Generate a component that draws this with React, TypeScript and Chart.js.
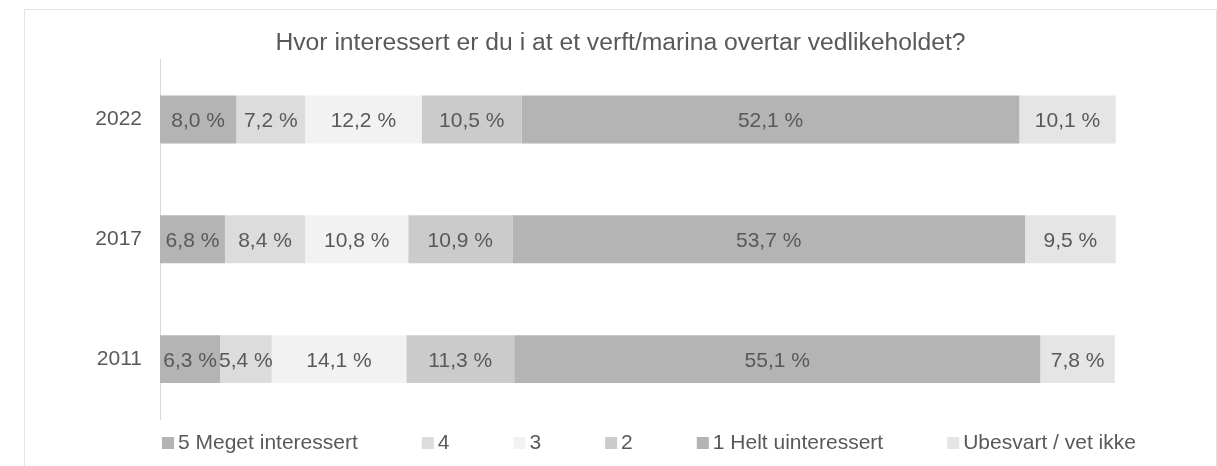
import React, { useEffect, useRef } from "react";
import { Chart, registerables } from "chart.js";

Chart.register(...registerables);

const title = "Hvor interessert er du i at et verft/marina overtar vedlikeholdet?";
const years = ["2022", "2017", "2011"];
const seriesNames = [
  "5 Meget interessert",
  "4",
  "3",
  "2",
  "1 Helt uinteressert",
  "Ubesvart / vet ikke",
];
const meget = [8.0, 6.8, 6.3];
const fire = [7.2, 8.4, 5.4];
const tre = [12.2, 10.8, 14.1];
const to = [10.5, 10.9, 11.3];
const helt = [52.1, 53.7, 55.1];
const ubesvart = [10.1, 9.5, 7.8];
const seriesValues = [meget, fire, tre, to, helt, ubesvart];
const colors = ["#b4b4b4", "#dcdcdc", "#f2f2f2", "#cbcbcb", "#b4b4b4", "#e5e5e5"];

const FONT = "'Liberation Sans', Arial, Helvetica, sans-serif";
const TEXT = "#595959";

const fmt = (v: number) => v.toFixed(1).replace(".", ",") + " %";

const dataLabels = {
  id: "dataLabels",
  afterDatasetsDraw(chart: any) {
    const ctx = chart.ctx;
    ctx.save();
    ctx.font = `21px ${FONT}`;
    ctx.fillStyle = TEXT;
    ctx.textAlign = "center";
    ctx.textBaseline = "middle";
    chart.data.datasets.forEach((ds: any, di: number) => {
      const meta = chart.getDatasetMeta(di);
      meta.data.forEach((el: any, i: number) => {
        const cx = (el.x + el.base) / 2;
        ctx.fillText(fmt(ds.data[i]), cx, el.y + 2);
      });
    });
    ctx.restore();
  },
};

const customLegend = {
  id: "customLegend",
  afterDraw(chart: any) {
    const ctx = chart.ctx;
    const area = chart.chartArea;
    ctx.save();
    ctx.font = `21px ${FONT}`;
    ctx.textBaseline = "alphabetic";
    ctx.textAlign = "left";
    let x = area.left + 2;
    const baseline = area.bottom + 30;
    const box = 12;
    const gap = 64;
    chart.data.datasets.forEach((ds: any) => {
      ctx.fillStyle = ds.backgroundColor;
      ctx.fillRect(x, baseline - box, box, box);
      ctx.fillStyle = TEXT;
      ctx.fillText(ds.label, x + 16, baseline);
      x += 16 + ctx.measureText(ds.label).width + gap;
    });
    ctx.restore();
  },
};

export default function App() {
  const ref = useRef<HTMLCanvasElement>(null);
  useEffect(() => {
    if (!ref.current) return;
    Chart.defaults.font.family = FONT;
    const chart = new Chart(ref.current, {
      type: "bar",
      data: {
        labels: years,
        datasets: seriesNames.map((name, i) => ({
          label: name,
          data: seriesValues[i],
          backgroundColor: colors[i],
          borderWidth: 0,
          barPercentage: 0.4,
          categoryPercentage: 1,
        })),
      },
      options: {
        indexAxis: "y",
        responsive: false,
        animation: false,
        layout: { padding: { left: 0, right: 0, top: 0, bottom: 47 } },
        plugins: {
          legend: { display: false },
          tooltip: { enabled: false },
          title: {
            display: true,
            text: title,
            color: TEXT,
            font: { size: 24.7, weight: "normal", family: FONT, lineHeight: 1.2 },
            padding: { top: 18, bottom: 2 },
          },
        },
        scales: {
          x: {
            stacked: true,
            display: false,
            min: 0,
            max: 110.6,
          },
          y: {
            stacked: true,
            grid: { display: false, drawTicks: false },
            border: { display: true, color: "#d9d9d9", width: 1 },
            ticks: { color: TEXT, font: { size: 21, family: FONT }, padding: 18 },
            afterFit: (s: any) => {
              s.width = 135;
            },
          },
        },
      },
      plugins: [dataLabels, customLegend],
    } as any);
    return () => chart.destroy();
  }, []);

  return (
    <div
      style={{
        position: "fixed",
        left: 0,
        top: 0,
        width: 1217,
        height: 466,
        overflow: "hidden",
        background: "#fff",
      }}
    >
      <div
        style={{
          position: "absolute",
          left: 24,
          top: 9,
          width: 1191,
          height: 470,
          border: "1px solid #e3e3e3",
        }}
      >
        <canvas ref={ref} width={1191} height={456} style={{ display: "block", width: 1191, height: 456 }} />
      </div>
    </div>
  );
}
